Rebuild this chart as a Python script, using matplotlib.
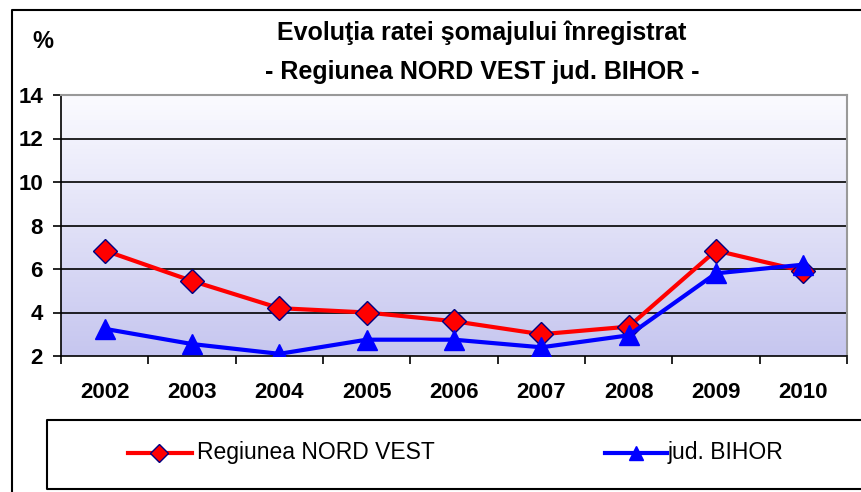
import matplotlib
matplotlib.use("Agg")
import matplotlib.pyplot as plt
import numpy as np
from matplotlib.lines import Line2D
from matplotlib.colors import LinearSegmentedColormap

years = ["2002", "2003", "2004", "2005", "2006", "2007", "2008", "2009", "2010"]
nord_vest = [6.85, 5.45, 4.2, 4.0, 3.6, 3.0, 3.35, 6.85, 5.9]
bihor = [3.25, 2.55, 2.1, 2.75, 2.75, 2.4, 2.95, 5.8, 6.2]
yticks = [2, 4, 6, 8, 10, 12, 14]

plt.rcParams['font.family'] = ['Liberation Sans', 'DejaVu Sans']

fig = plt.figure(figsize=(8.61, 4.92), dpi=100)
W, H = 861, 492

def fx(px): return px / W
def fy(py): return 1 - py / H

def fline(xs, ys, **kw):
    fig.lines.append(Line2D([fx(v) for v in xs], [fy(v) for v in ys],
                            transform=fig.transFigure, **kw))

# outer frame (only left and top visible)
fline([12, 12, 870], [500, 10, 10], color='black', lw=1.5)

ax = fig.add_axes([fx(61), fy(356), fx(847) - fx(61), fy(95) - fy(356)])
x = np.arange(len(years))

# gradient background
cmap = LinearSegmentedColormap.from_list('bg', ['#c6c6ef', '#fbfbff'])
grad = np.linspace(0, 1, 256).reshape(-1, 1)
ax.imshow(grad, aspect='auto', cmap=cmap, origin='lower',
          extent=[-0.5, len(years) - 0.5, 2, 14], zorder=0)

for yv in yticks[1:-1]:
    ax.axhline(yv, color='black', lw=1.2, zorder=1)

ax.plot(x, nord_vest, color='#ff0000', lw=3, marker='D', markersize=12,
        markerfacecolor='#ff0000', markeredgecolor='#000080', markeredgewidth=1, zorder=3)
ax.plot(x, bihor, color='#0000ff', lw=3, marker='^', markersize=14,
        markerfacecolor='#0000ff', markeredgecolor='#0000ff', zorder=4)

ax.set_xlim(-0.5, len(years) - 0.5)
ax.set_ylim(2, 14)
ax.set_yticks(yticks)
ax.set_yticklabels([str(v) for v in yticks], fontsize=16, fontweight='bold')
ax.set_xticks(np.arange(len(years) + 1) - 0.5, minor=False)
ax.set_xticklabels([])
ax.tick_params(axis='x', length=6, width=1.2, direction='out')
ax.tick_params(axis='y', length=6, width=1.2, direction='out', pad=7)
for i, yr in enumerate(years):
    ax.text(i, -0.138, yr, transform=ax.get_xaxis_transform(), ha='center', va='center',
            fontsize=16, fontweight='bold')
for s in ['top', 'right']:
    ax.spines[s].set_color('#999999')
    ax.spines[s].set_linewidth(1.5)
for s in ['left', 'bottom']:
    ax.spines[s].set_color('black')
    ax.spines[s].set_linewidth(1.2)

# titles
fig.text(fx(482), fy(33), "Evoluţia ratei şomajului înregistrat", ha='center', va='center',
         fontsize=18, fontweight='bold')
fig.text(fx(482), fy(72), "- Regiunea NORD VEST jud. BIHOR -", ha='center', va='center',
         fontsize=18, fontweight='bold')
fig.text(fx(43), fy(42), "%", ha='center', va='center', fontsize=17, fontweight='bold')

# legend box (right edge beyond image)
fline([870, 47, 47, 870], [420, 420, 489, 489], color='black', lw=1.5)
fline([128, 192], [453, 453], color='#ff0000', lw=3)
fline([159], [453], marker='D', markersize=9, markerfacecolor='#ff0000',
      markeredgecolor='#000080', lw=0)
fig.text(fx(197), fy(453), "Regiunea NORD VEST", ha='left', va='center', fontsize=16.5)
fline([605, 667], [453, 453], color='#0000ff', lw=3)
fline([636], [453], marker='^', markersize=10, markerfacecolor='#0000ff',
      markeredgecolor='#0000ff', lw=0)
fig.text(fx(668), fy(453), "jud. BIHOR", ha='left', va='center', fontsize=16.5)

fig.savefig("out.png", dpi=100)
